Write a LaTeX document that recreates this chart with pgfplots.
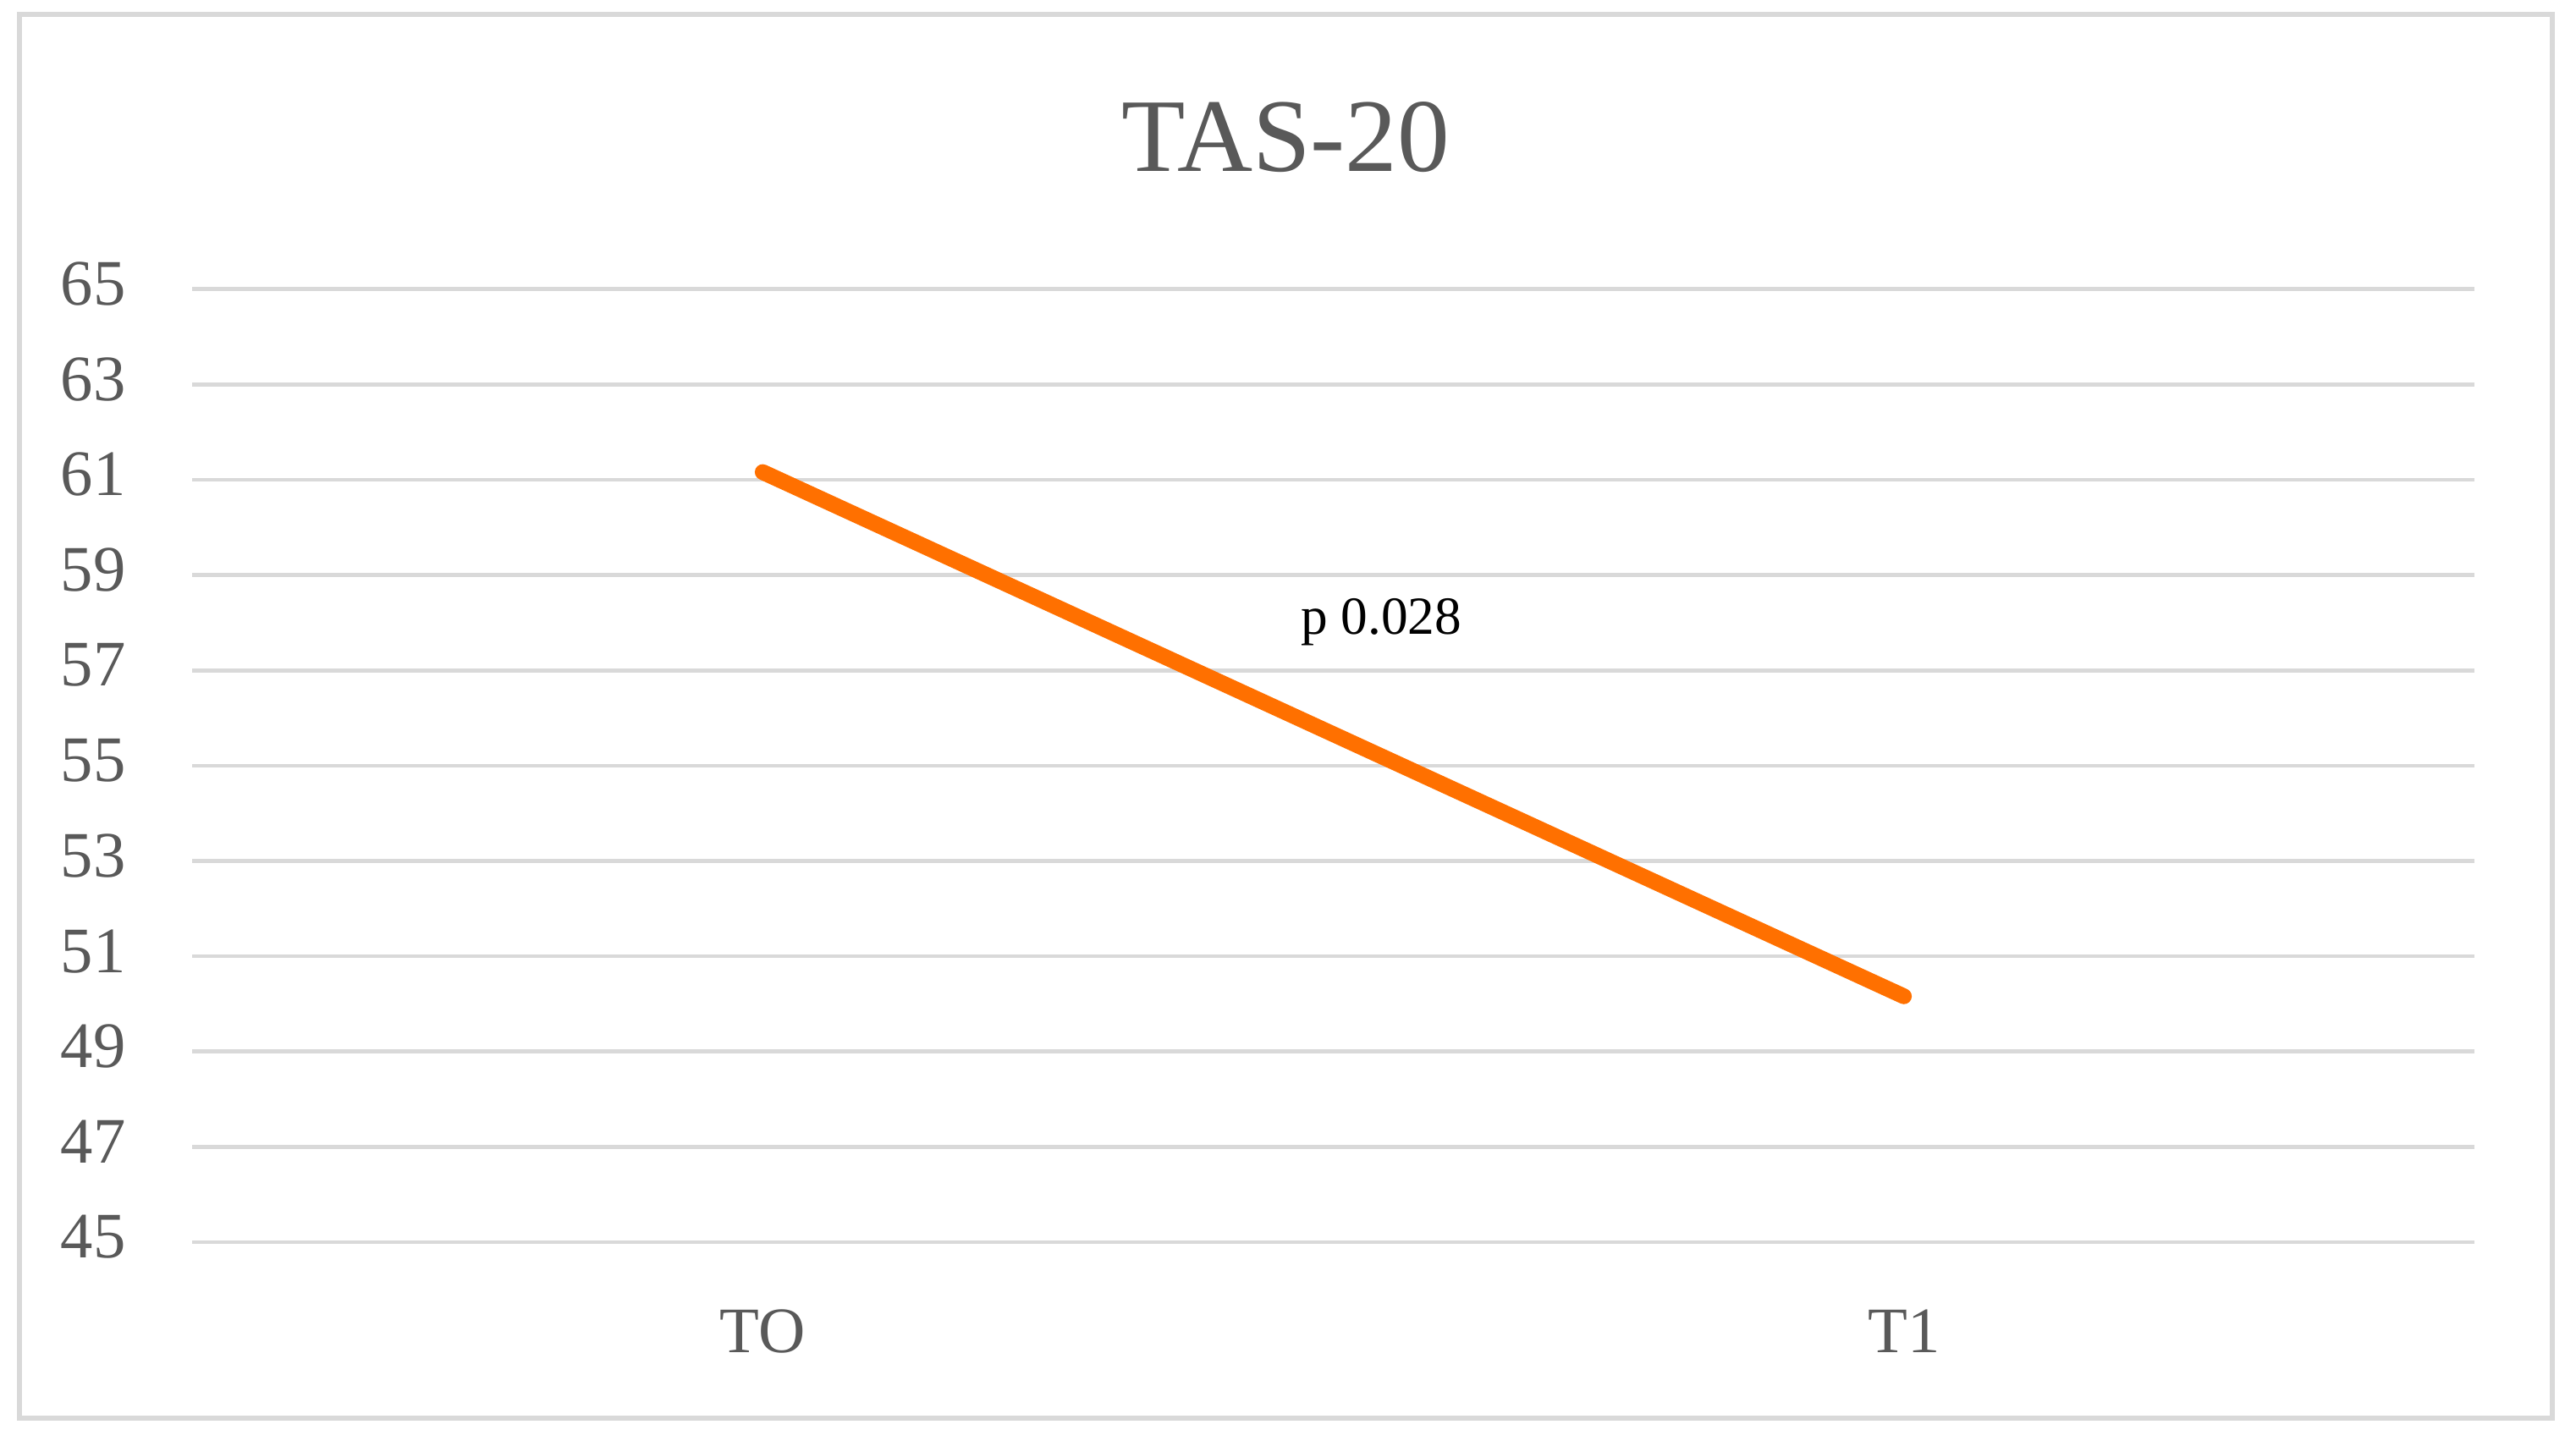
\documentclass[border=0pt]{standalone}
\usepackage{fontspec}
\setmainfont{Liberation Serif}
\usepackage{pgfplots}
\pgfplotsset{compat=1.18}
\definecolor{gridgray}{HTML}{D9D9D9}
\definecolor{textgray}{HTML}{595959}
\definecolor{lineorange}{RGB}{255,112,0}
\begin{document}
\begin{tikzpicture}
\path (0,0) rectangle (456.6pt,255.3pt);
\draw[gridgray, line width=0.9pt] (3.4pt,3.9pt) rectangle (452.4pt,252.7pt);
\node[anchor=base, text=textgray, font=\fontsize{18.5}{22}\selectfont, inner sep=0pt] at (227.9pt,224.9pt) {TAS-20};
\begin{axis}[
  at={(34.05pt,35.1pt)}, anchor=south west,
  scale only axis, width=404.55pt, height=168.95pt,
  xmin=-0.5, xmax=1.5, ymin=45, ymax=65,
  xtick={0,1}, xticklabels={TO,T1},
  ytick={45,47,...,65},
  /pgf/number format/assume math mode=true,
  axis line style={draw=none},
  major tick length=0pt,
  ymajorgrids, grid style={color=gridgray, line width=0.7pt},
  tick label style={text=textgray, font=\fontsize{11.5}{14}\selectfont, inner sep=0pt},
  yticklabel style={anchor=east, xshift=-11.6pt, yshift=0.9pt},
  xticklabel style={anchor=base, yshift=-19.5pt},
  clip=false,
]
\addplot[color=lineorange, line width=2.8pt, line cap=round] coordinates {(0,61.16) (1,50.16)};
\node[anchor=base, text=black, font=\fontsize{9.5}{11}\selectfont, inner sep=0pt] at (axis cs:0.542,57.75) {p 0.028};
\end{axis}
\end{tikzpicture}
\end{document}
